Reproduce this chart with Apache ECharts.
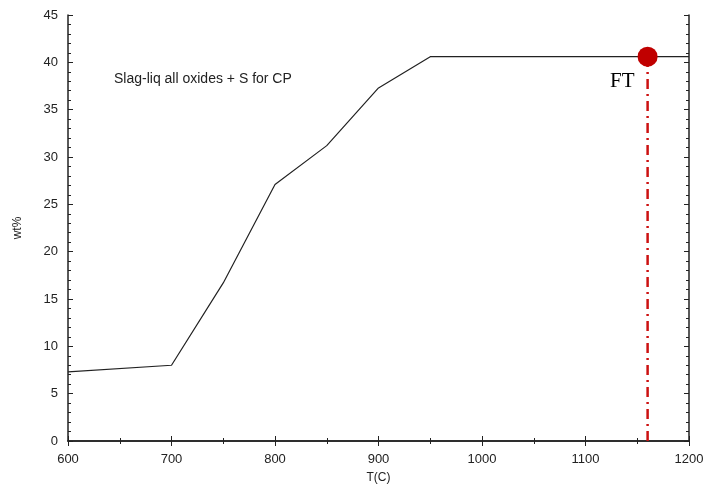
<!DOCTYPE html>
<html>
<head>
<meta charset="utf-8">
<script src="https://cdn.jsdelivr.net/npm/echarts@6/dist/echarts.min.js"></script>
<style>
  html, body { margin: 0; padding: 0; background: #fff; }
  #chart { width: 705px; height: 486px; }
</style>
</head>
<body>
<div id="chart"></div>
<script>
// temperature (C) and slag-liquid wt%
const temps = [600, 700, 750, 800, 850, 900, 950, 1000, 1050, 1100, 1150, 1200];
const wtPct = [7.3, 8.0, 16.7, 27.1, 31.2, 37.3, 40.6, 40.6, 40.6, 40.6, 40.6, 40.6];

// flow temperature marker
const ftTemp = [1160];
const ftWt = [40.6];

const labelFont = { color: '#222', fontSize: 13, fontFamily: 'Liberation Sans, Arial' };

const chart = echarts.init(document.getElementById('chart'));

const tickStyle = {
    axisLine: { show: true, lineStyle: { color: '#222', width: 1.5 } },
    axisTick: { show: true, inside: true, length: 5, lineStyle: { color: '#222' } },
    minorTick: { show: true, length: 3, lineStyle: { color: '#222' } },
    splitLine: { show: false }
};

chart.setOption({
    animation: false,
    grid: { left: 68, right: 16, top: 15, bottom: 45, outerBoundsMode: 'none' },
    xAxis: [
        {
            type: 'value', min: 600, max: 1200, interval: 100,
            name: 'T(C)', nameLocation: 'middle', nameGap: 31,
            nameTextStyle: Object.assign({}, labelFont, { fontSize: 12 }),
            axisLabel: Object.assign({ margin: 12, formatter: v => String(v) }, labelFont),
            ...tickStyle,
            minorTick: Object.assign({}, tickStyle.minorTick, { splitNumber: 2 })
        },
        {
            type: 'value', min: 600, max: 1200, interval: 100, position: 'top',
            axisLabel: { show: false },
            ...tickStyle,
            minorTick: Object.assign({}, tickStyle.minorTick, { splitNumber: 2 })
        }
    ],
    yAxis: [
        {
            type: 'value', min: 0, max: 45, interval: 5,
            name: 'wt%', nameLocation: 'middle', nameGap: 44, nameRotate: 90,
            nameTextStyle: Object.assign({}, labelFont, { fontSize: 12 }),
            axisLabel: Object.assign({ margin: 10 }, labelFont),
            ...tickStyle,
            minorTick: Object.assign({}, tickStyle.minorTick, { splitNumber: 5 })
        },
        {
            type: 'value', min: 0, max: 45, interval: 5, position: 'right',
            axisLabel: { show: false },
            ...tickStyle,
            minorTick: Object.assign({}, tickStyle.minorTick, { splitNumber: 5 })
        }
    ],
    graphic: [
        {
            type: 'text', left: 114, top: 72,
            style: { text: 'Slag-liq all oxides + S for CP', fill: '#222', fontSize: 14, fontFamily: 'Liberation Sans, Arial' }
        }
    ],
    series: [
        {
            type: 'line',
            data: temps.map((t, i) => [t, wtPct[i]]),
            symbol: 'none',
            lineStyle: { color: '#222', width: 1.2 },
            z: 2
        },
        {
            type: 'line',
            data: [[ftTemp[0], 0], [ftTemp[0], ftWt[0]]],
            symbol: 'none',
            lineStyle: { color: '#cc1111', width: 2.5, type: [10, 5, 2, 5] },
            z: 3
        },
        {
            type: 'scatter',
            data: ftTemp.map((t, i) => [t, ftWt[i]]),
            symbolSize: 20,
            itemStyle: { color: '#c00000', opacity: 1 },
            label: {
                show: true,
                formatter: 'FT',
                position: 'left',
                offset: [2, 25],
                color: '#000',
                fontSize: 21,
                fontFamily: 'Liberation Serif, Times New Roman, serif'
            },
            z: 4
        }
    ]
});
</script>
</body>
</html>
